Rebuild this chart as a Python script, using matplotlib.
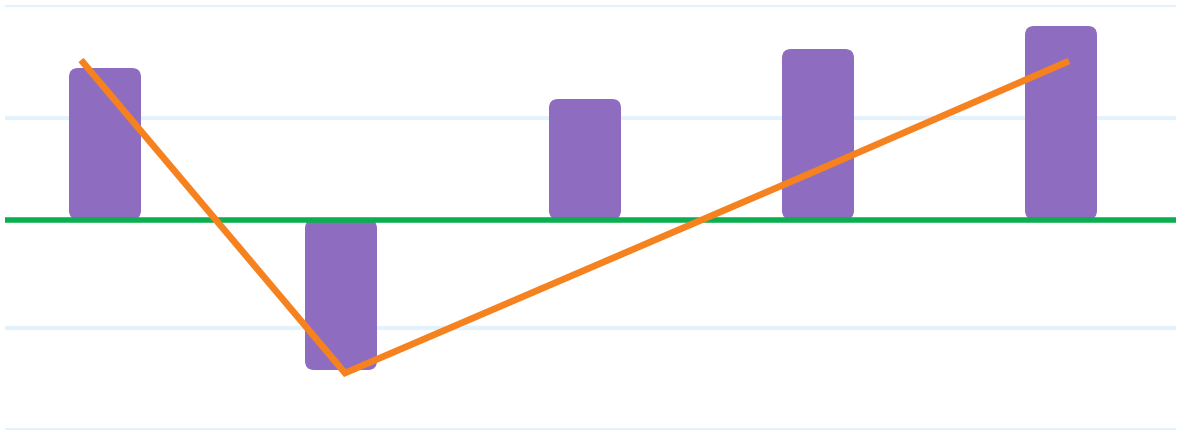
import matplotlib
matplotlib.use('Agg')
import matplotlib.pyplot as plt
from matplotlib.patches import FancyBboxPatch

# values (no labels shown in the picture)
bar_x = [1.00, 3.36, 5.80, 8.13, 10.56]
bar_vals = [15.15, -15.05, 12.05, 17.05, 19.35]
line_x = [0.76, 3.40, 5.80, 8.13, 10.64]
line_vals = [15.95, -15.35, -5.05, 4.95, 15.85]
grid_vals = [21.42, 10.15, -10.85, -21.02]

W, H = 1181, 434
fig = plt.figure(figsize=(W / 100, H / 100), dpi=100)
ax = fig.add_axes([5 / W, 4.3 / H, 1171 / W, 424.4 / H])
ax.set_xlim(0, 11.71)
ax.set_ylim(-21.02, 21.42)
ax.axis('off')

for g in grid_vals:
    ax.axhline(g, color='#e4f2fb', lw=3.0, zorder=0)

bw = 0.72
for x, v in zip(bar_x, bar_vals):
    y0 = min(0, v)
    p = FancyBboxPatch((x - bw / 2, y0), bw, abs(v),
                       boxstyle='round,pad=0,rounding_size=0.09',
                       mutation_aspect=10, fc='#8e6dc1', ec='none', zorder=2)
    ax.add_patch(p)

ax.axhline(0, color='#0baf4f', lw=4.0, zorder=3)

ax.plot(line_x, line_vals, color='#f5821f', lw=4.8, solid_capstyle='butt',
        solid_joinstyle='miter', zorder=4)

fig.savefig('out.png', dpi=100)
